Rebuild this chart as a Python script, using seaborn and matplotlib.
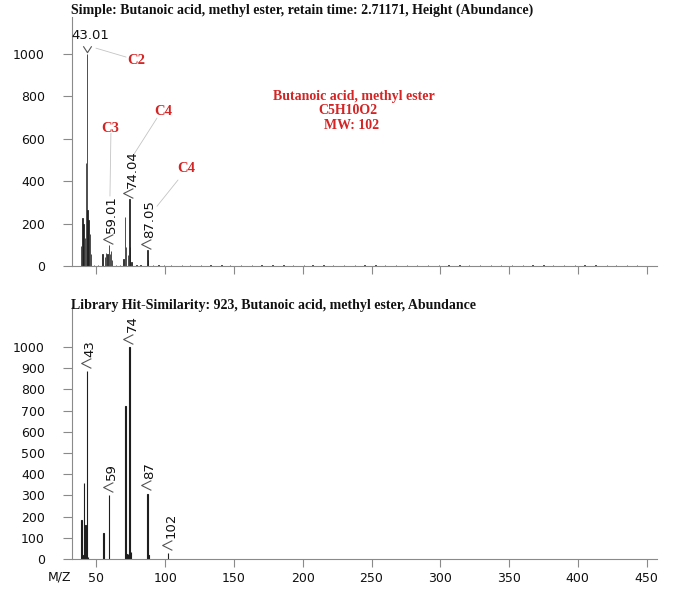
import matplotlib
matplotlib.use("Agg")
import matplotlib.pyplot as plt
import pandas as pd
import seaborn as sns

# ---------------- data ----------------
# Measured (sample) spectrum: main peaks
sample_mz = [38.8, 39.8, 40.5, 41.5, 42.3, 43.01, 43.5, 44.2, 45.2, 46.0,
             54.4, 56.1, 57.0, 58.0, 59.01, 59.7, 60.7, 61.5,
             69.6, 70.6, 71.4, 72.7, 74.04, 74.6, 75.5, 87.05, 87.7]
sample_abund = [95, 228, 200, 130, 488, 1000, 263, 215, 153, 58,
                55, 42, 60, 55, 100, 55, 70, 30,
                35, 231, 90, 50, 315, 90, 20, 77, 27]
# Small baseline noise peaks of the sample spectrum
noise_mz = [48, 51, 64, 67, 79, 82, 91, 95, 99, 104, 112, 118, 126, 133, 141,
            147, 155, 163, 170, 178, 186, 193, 201, 207, 215, 222, 230, 238,
            245, 253, 260, 268, 276, 283, 291, 299, 306, 314, 321, 329, 337,
            344, 352, 360, 367, 375, 382, 390, 398, 405, 413, 421, 428, 436, 443]
noise_abund = [5, 4, 6, 5, 4, 5, 3, 4, 4, 3, 3, 4, 3, 3, 4,
               3, 3, 4, 3, 3, 3, 4, 3, 3, 3, 4, 3, 3,
               3, 3, 4, 3, 3, 3, 3, 3, 4, 3, 3, 3, 3,
               3, 4, 3, 3, 3, 3, 3, 4, 3, 3, 3, 4, 3, 3]

# Library spectrum
lib_mz = [39, 40, 41, 42, 43, 44, 55, 59, 71, 72, 73, 74, 75, 87, 88, 102]
lib_abund = [186, 20, 360, 160, 885, 10, 122, 302, 720, 23, 23, 1000, 32, 309, 17, 27]

# Peak labels
top_label = ["43.01"]
top_rot_labels = ["59.01", "74.04", "87.05"]
bot_labels = ["43", "74", "59", "87", "102"]
fragments = ["C2", "C3", "C4", "C4"]
compound = ["Butanoic acid, methyl ester", "C5H10O2", "MW: 102"]
title_top = "Simple: Butanoic acid, methyl ester, retain time: 2.71171, Height (Abundance)"
title_bot = "Library Hit-Similarity: 923, Butanoic acid, methyl ester, Abundance"

top_yticks = [0, 200, 400, 600, 800, 1000]
bot_yticks = [0, 100, 200, 300, 400, 500, 600, 700, 800, 900, 1000]
xticks = [50, 100, 150, 200, 250, 300, 350, 400, 450]

# ---------------- figure ----------------
sns.set_style("ticks")
plt.rcParams['font.family'] = ['DejaVu Sans']

W, H = 675, 591
fig = plt.figure(figsize=(W / 100, H / 100), dpi=100)

def fx(px):
    return px / W

def fy(py):
    return 1 - py / H

XL = (32.2, 457.6)
ax1 = fig.add_axes([fx(72), fy(266), fx(657) - fx(72), fy(17) - fy(266)])
ax2 = fig.add_axes([fx(72), fy(559), fx(657) - fx(72), fy(307) - fy(559)])

bar_col = "#1e1e1e"
spine_col = "#8a8a8a"
serif = ["Liberation Serif", "DejaVu Serif"]
red = "#d42424"
lead = "#c4c4c4"
chev_col = "#555555"

df_top = pd.DataFrame({"mz": sample_mz + noise_mz,
                       "abund": sample_abund + noise_abund})
df_bot = pd.DataFrame({"mz": lib_mz, "abund": lib_abund})

sns.barplot(data=df_top, x="mz", y="abund", native_scale=True, width=0.5,
            color=bar_col, edgecolor=bar_col, linewidth=0.55, errorbar=None,
            saturation=1, ax=ax1)
sns.barplot(data=df_bot, x="mz", y="abund", native_scale=True, width=0.35,
            color=bar_col, edgecolor=bar_col, linewidth=0.8, errorbar=None,
            saturation=1, ax=ax2)

for ax, ylim, yt in [(ax1, (0, 1175), top_yticks), (ax2, (0, 1189), bot_yticks)]:
    ax.set_xlim(*XL)
    ax.set_ylim(*ylim)
    ax.set_xticks(xticks)
    ax.set_yticks(yt)
    ax.set_xlabel("")
    ax.set_ylabel("")
    for s in ["top", "right"]:
        ax.spines[s].set_visible(False)
    for s in ["left", "bottom"]:
        ax.spines[s].set_color(spine_col)
        ax.spines[s].set_linewidth(0.8)
    ax.tick_params(axis="y", direction="out", length=6.5, width=0.8,
                   color=spine_col, pad=13, labelsize=9, labelcolor="#111111")
    ax.tick_params(axis="x", direction="out", length=6, width=0.8,
                   color=spine_col, pad=3.5, labelsize=9, labelcolor="#111111")
    ax.patch.set_alpha(0)

ax1.set_xticklabels([])

left_chev = [(1, 1), (-1, 0), (1, -1)]
down_chev = [(-1.3, 1), (0, -1), (1.3, 1)]

def chevron(ax, x, y, verts, ms=6):
    ax.plot([x], [y], linestyle="none", marker=verts, markersize=ms,
            markerfacecolor="none", markeredgecolor=chev_col, markeredgewidth=0.8)

# ---- top panel annotations ----
ax1.text(45.2, 1088, top_label[0], ha="center", va="center", fontsize=9.5, color="#111111")
chevron(ax1, 43.0, 1022, down_chev)

top_rot_pos = [(59.01, 100), (74.04, 315), (87.05, 77)]
for lab, (x, y) in zip(top_rot_labels, top_rot_pos):
    chevron(ax1, x - 0.8, y + 28, left_chev, ms=7)
    ax1.text(x + 1.9, y + 55, lab, rotation=90, ha="center", va="bottom",
             fontsize=9.5, color="#111111")

# fragment labels with leader lines
frag_pos = [(78.7, 972), (59.8, 651), (98.4, 731), (115.0, 462)]
leaders = [((49.6, 1028), (71.5, 986)),
           ((60.5, 627), (59.8, 330)),
           ((94.0, 698), (77.3, 528)),
           ((109.3, 406), (94.0, 282))]
for lab, (x, y) in zip(fragments, frag_pos):
    ax1.text(x, y, lab, ha="center", va="center", fontsize=10.5,
             fontweight="bold", color=red, family=serif)
for (a, b) in leaders:
    ax1.plot([a[0], b[0]], [a[1], b[1]], color=lead, lw=0.6)

comp_pos = [(237.3, 802), (232.5, 736), (235.5, 665)]
for txt, (x, y) in zip(compound, comp_pos):
    ax1.text(x, y, txt, ha="center", va="center", fontsize=10,
             fontweight="bold", color=red, family=serif)

# ---- bottom panel annotations ----
bot_pos = [(43, 885), (74, 1000), (59, 302), (87, 309), (102, 27)]
for lab, (x, y) in zip(bot_labels, bot_pos):
    chevron(ax2, x - 0.8, y + 40, left_chev, ms=7)
    ax2.text(x + 1.9, y + 70, lab, rotation=90, ha="center", va="bottom",
             fontsize=9.5, color="#111111")

# ---- titles and axis label ----
fig.text(fx(71), fy(10), title_top, ha="left", va="center", fontsize=10,
         fontweight="bold", family=serif, color="#111111")
fig.text(fx(71), fy(305), title_bot, ha="left", va="center", fontsize=10,
         fontweight="bold", family=serif, color="#111111")
fig.text(fx(59.5), fy(577), "M/Z", ha="center", va="center", fontsize=9, color="#111111")

fig.savefig("out.png", dpi=100, facecolor="white")
